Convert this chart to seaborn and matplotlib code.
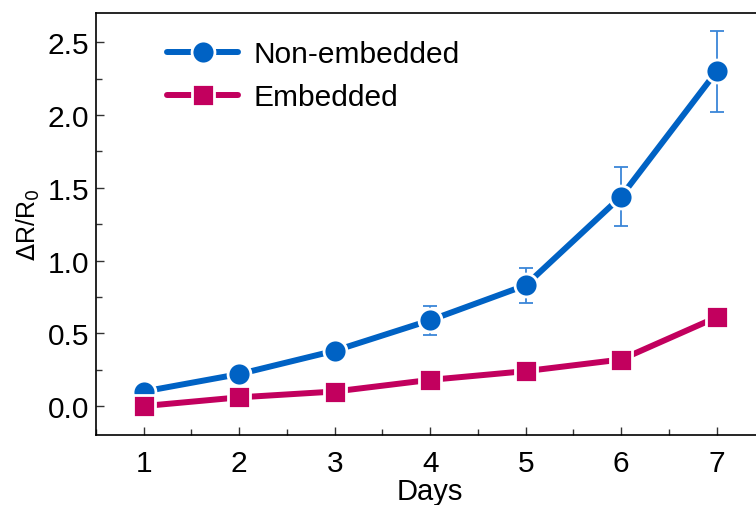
import matplotlib
matplotlib.use("Agg")
import matplotlib.pyplot as plt
import pandas as pd
import seaborn as sns
from matplotlib.ticker import MultipleLocator

days = [1, 2, 3, 4, 5, 6, 7]
non_embedded = [0.10, 0.22, 0.38, 0.59, 0.83, 1.44, 2.30]
non_embedded_err = [0.02, 0.02, 0.02, 0.10, 0.12, 0.20, 0.28]
embedded = [0.00, 0.06, 0.10, 0.18, 0.24, 0.32, 0.61]
embedded_err = [0.03, 0.03, 0.03, 0.03, 0.03, 0.02, 0.03]

labels = ["Non-embedded", "Embedded"]
colors = {"Non-embedded": "#0062c4", "Embedded": "#c2005e"}
err_colors = {"Non-embedded": "#3a86d8", "Embedded": "#c2005e"}

df = pd.concat([
    pd.DataFrame({"Days": days, "value": non_embedded, "err": non_embedded_err,
                  "group": labels[0]}),
    pd.DataFrame({"Days": days, "value": embedded, "err": embedded_err,
                  "group": labels[1]}),
])

sns.set_style("ticks")
plt.rcParams["font.family"] = ["Liberation Sans", "DejaVu Sans"]
plt.rcParams["text.color"] = "black"
plt.rcParams["axes.labelcolor"] = "black"
plt.rcParams["xtick.color"] = "black"
plt.rcParams["ytick.color"] = "black"

fig = plt.figure(figsize=(7.56, 5.06), dpi=100)
ax = fig.add_axes([0.127, 0.138, 0.884, 0.834])

# error bars first so markers sit on top
for name, g in df.groupby("group"):
    ax.errorbar(g["Days"], g["value"], yerr=g["err"], fmt="none",
                ecolor=err_colors[name], elinewidth=1.3, capsize=5,
                capthick=1.3, zorder=2)

sns.lineplot(
    df, x="Days", y="value", hue="group", style="group",
    hue_order=labels, style_order=labels,
    palette=colors, markers={"Non-embedded": "o", "Embedded": "s"},
    dashes=False, linewidth=4.3, markersize=16.5,
    markeredgecolor="white", markeredgewidth=2.0,
    ax=ax, zorder=3, legend=True,
)
for ln in ax.lines:
    ln.set_solid_capstyle("round")

ax.set_xlim(0.5, 7.5)
ax.set_ylim(-0.2, 2.7)
ax.xaxis.set_major_locator(MultipleLocator(1))
ax.xaxis.set_minor_locator(MultipleLocator(0.5))
ax.yaxis.set_major_locator(MultipleLocator(0.5))
ax.yaxis.set_minor_locator(MultipleLocator(0.25))
ax.yaxis.set_major_formatter(plt.FormatStrFormatter("%.1f"))
ax.tick_params(which="both", direction="in", labelsize=21.5, width=1,
               color="#333333")
ax.tick_params(which="major", length=6)
ax.tick_params(axis="y", which="major", pad=5)
ax.tick_params(axis="x", which="major", pad=10)
ax.tick_params(which="minor", length=4)
for side in ["left", "bottom", "top", "right"]:
    ax.spines[side].set_linewidth(1.2)
    ax.spines[side].set_color("black")

ax.set_xlabel("Days", fontsize=21, labelpad=0)
ax.set_ylabel(r"$\Delta$R/R$_0$", fontsize=18, labelpad=4)

handles, _ = ax.get_legend_handles_labels()
for h in handles:
    h.set_solid_capstyle("round")
leg = ax.legend(handles, labels, loc="upper left", bbox_to_anchor=(0.079, 0.978),
                frameon=False, fontsize=21.5, handlelength=2.4,
                handletextpad=0.5, labelspacing=0.5, borderaxespad=0.2)

fig.savefig("out.png", dpi=100)
